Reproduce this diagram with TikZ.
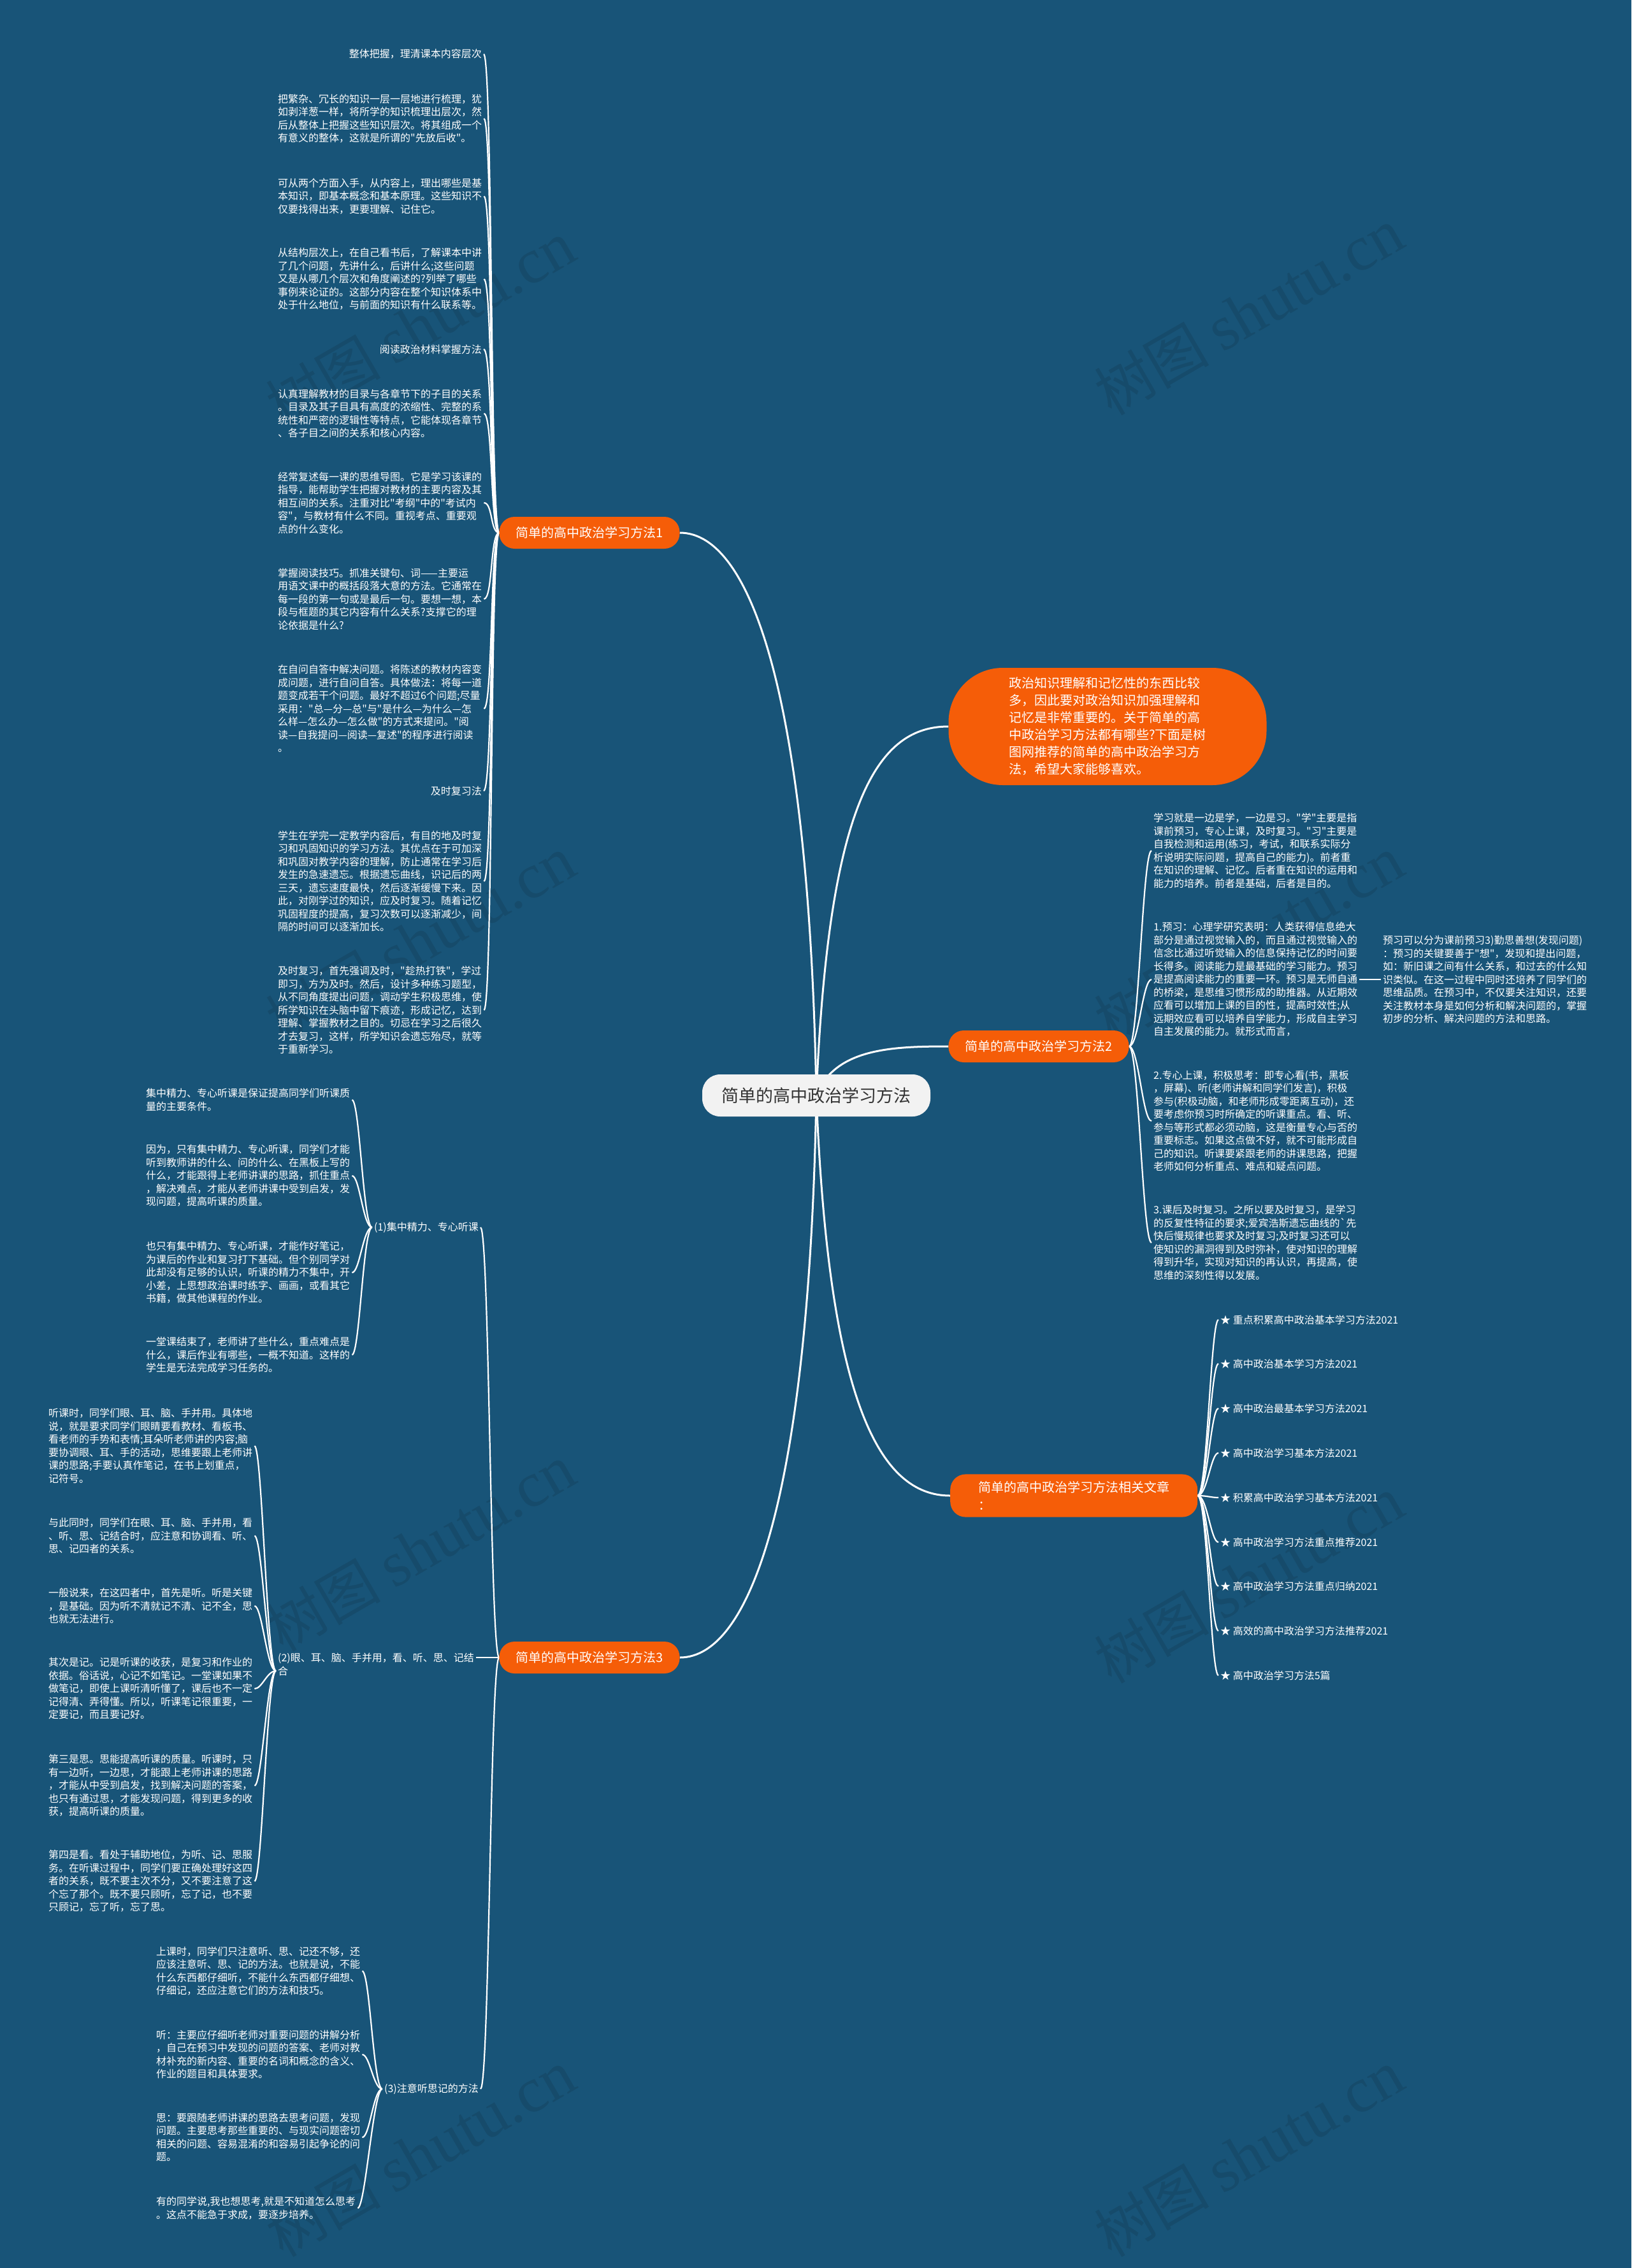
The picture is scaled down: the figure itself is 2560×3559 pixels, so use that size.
\documentclass[tikz,border=0pt]{standalone}
\usepackage{fontspec}
\setmainfont{Noto Sans CJK SC}
\newfontfamily\cjk{Noto Sans CJK SC}
\newfontfamily\wmserif{Liberation Serif}
\definecolor{bgC}{HTML}{185478}
\definecolor{orangeC}{HTML}{F55D08}
\definecolor{rootC}{HTML}{F2F2F2}
\definecolor{rootText}{HTML}{333333}
\definecolor{wmC}{HTML}{164B6B}
\pgfdeclarelayer{bglayer}
\pgfsetlayers{bglayer,main}
\begin{document}
\begin{tikzpicture}[x=1pt,y=-1pt,
  txtnode/.style={text=white,font=\cjk\fontsize{16}{20.5}\selectfont,align=left,inner sep=3pt},
  ltxt/.style={txtnode,anchor=west},
  rtxt/.style={txtnode,anchor=east},
  branchbox/.style={fill=orangeC,text=white,rounded corners=24pt,font=\cjk\fontsize{20}{28}\selectfont,minimum height=50pt,inner xsep=26pt},
  mainline/.style={draw=white,line width=3pt},
  subline/.style={draw=white,line width=2.2pt},
  wmark/.style={rotate=30,text=wmC,font=\cjk\fontsize{90}{90}\selectfont}]
\useasboundingbox (0,0) rectangle (2560,3559);

% ---------- root and first level ----------
\node[fill=rootC,text=rootText,rounded corners=28pt,font=\cjk\fontsize{27}{32}\selectfont,minimum width=358pt,minimum height=66pt] (root) at (1281,1719) {简单的高中政治学习方法};
\node[fill=orangeC,text=white,rounded corners=85pt,font=\cjk\fontsize{20}{27}\selectfont,align=left,minimum width=499pt,minimum height=184pt] (intro) at (1738,1140) {政治知识理解和记忆性的东西比较\\多，因此要对政治知识加强理解和\\记忆是非常重要的。关于简单的高\\中政治学习方法都有哪些?下面是树\\图网推荐的简单的高中政治学习方\\法，希望大家能够喜欢。};
\node[branchbox] (b1) at (925,836) {简单的高中政治学习方法1};
\node[branchbox] (b2) at (1630,1642) {简单的高中政治学习方法2};
\node[branchbox] (b3) at (925,2601) {简单的高中政治学习方法3};
\node[fill=orangeC,text=white,rounded corners=24pt,font=\cjk\fontsize{20}{28}\selectfont,align=left,anchor=west,inner xsep=34pt,inner ysep=11pt,minimum width=388pt] (rel) at (1491,2347) {简单的高中政治学习方法相关文章\\：};

% ---------- branch 1 ----------
\node[rtxt] (p1a) at (759,85) {整体把握，理清课本内容层次};
\node[ltxt] (p1b) at (433,186) {把繁杂、冗长的知识一层一层地进行梳理，犹\\如剥洋葱一样，将所学的知识梳理出层次，然\\后从整体上把握这些知识层次。将其组成一个\\有意义的整体，这就是所谓的"先放后收"。};
\node[ltxt] (p1c) at (433,308) {可从两个方面入手，从内容上，理出哪些是基\\本知识，即基本概念和基本原理。这些知识不\\仅要找得出来，更要理解、记住它。};
\node[ltxt] (p1d) at (433,438) {从结构层次上，在自己看书后，了解课本中讲\\了几个问题，先讲什么，后讲什么;这些问题\\又是从哪几个层次和角度阐述的?列举了哪些\\事例来论证的。这部分内容在整个知识体系中\\处于什么地位，与前面的知识有什么联系等。};
\node[rtxt] (p1e) at (759,548) {阅读政治材料掌握方法};
\node[ltxt] (p1f) at (433,649) {认真理解教材的目录与各章节下的子目的关系\\。目录及其子目具有高度的浓缩性、完整的系\\统性和严密的逻辑性等特点，它能体现各章节\\、各子目之间的关系和核心内容。};
\node[ltxt] (p1g) at (433,789) {经常复述每一课的思维导图。它是学习该课的\\指导，能帮助学生把握对教材的主要内容及其\\相互间的关系。注重对比"考纲"中的"考试内\\容"，与教材有什么不同。重视考点、重要观\\点的什么变化。};
\node[ltxt] (p1h) at (433,940) {掌握阅读技巧。抓准关键句、词——主要运\\用语文课中的概括段落大意的方法。它通常在\\每一段的第一句或是最后一句。要想一想，本\\段与框题的其它内容有什么关系?支撑它的理\\论依据是什么?};
\node[ltxt] (p1i) at (433,1112) {在自问自答中解决问题。将陈述的教材内容变\\成问题，进行自问自答。具体做法：将每一道\\题变成若干个问题。最好不超过6个问题;尽量\\采用："总—分—总"与"是什么—为什么—怎\\么样—怎么办—怎么做"的方式来提问。"阅\\读—自我提问—阅读—复述"的程序进行阅读\\。};
\node[rtxt] (p1j) at (759,1241) {及时复习法};
\node[ltxt] (p1k) at (433,1383) {学生在学完一定教学内容后，有目的地及时复\\习和巩固知识的学习方法。其优点在于可加深\\和巩固对教学内容的理解，防止通常在学习后\\发生的急速遗忘。根据遗忘曲线，识记后的两\\三天，遗忘速度最快，然后逐渐缓慢下来。因\\此，对刚学过的知识，应及时复习。随着记忆\\巩固程度的提高，复习次数可以逐渐减少，间\\隔的时间可以逐渐加长。};
\node[ltxt] (p1l) at (433,1585) {及时复习，首先强调及时，"趁热打铁"，学过\\即习，方为及时。然后，设计多种练习题型，\\从不同角度提出问题，调动学生积极思维，使\\所学知识在头脑中留下痕迹，形成记忆，达到\\理解、掌握教材之目的。切忌在学习之后很久\\才去复习，这样，所学知识会遗忘殆尽，就等\\于重新学习。};

% ---------- branch 2 ----------
\node[ltxt] (p2a) at (1807,1335) {学习就是一边是学，一边是习。"学"主要是指\\课前预习，专心上课，及时复习。"习"主要是\\自我检测和运用(练习，考试，和联系实际分\\析说明实际问题，提高自己的能力)。前者重\\在知识的理解、记忆。后者重在知识的运用和\\能力的培养。前者是基础，后者是目的。};
\node[ltxt] (p2b) at (1807,1537) {1.预习：心理学研究表明：人类获得信息绝大\\部分是通过视觉输入的，而且通过视觉输入的\\信念比通过听觉输入的信息保持记忆的时间要\\长得多。阅读能力是最基础的学习能力。预习\\是提高阅读能力的重要一环。预习是无师自通\\的桥梁，是思维习惯形成的助推器。从近期效\\应看可以增加上课的目的性，提高时效性;从\\远期效应看可以培养自学能力，形成自主学习\\自主发展的能力。就形式而言，};
\node[ltxt] (p2bc) at (2167,1537) {预习可以分为课前预习3)勤思善想(发现问题)\\：预习的关键要善于"想"，发现和提出问题，\\如：新旧课之间有什么关系，和过去的什么知\\识类似。在这一过程中同时还培养了同学们的\\思维品质。在预习中，不仅要关注知识，还要\\关注教材本身是如何分析和解决问题的，掌握\\初步的分析、解决问题的方法和思路。};
\node[ltxt] (p2c) at (1807,1759) {2.专心上课，积极思考：即专心看(书，黑板\\，屏幕)、听(老师讲解和同学们发言)，积极\\参与(积极动脑，和老师形成零距离互动)，还\\要考虑你预习时所确定的听课重点。看、听、\\参与等形式都必须动脑，这是衡量专心与否的\\重要标志。如果这点做不好，就不可能形成自\\己的知识。听课要紧跟老师的讲课思路，把握\\老师如何分析重点、难点和疑点问题。};
\node[ltxt] (p2d) at (1807,1950) {3.课后及时复习。之所以要及时复习，是学习\\的反复性特征的要求;爱宾浩斯遗忘曲线的`先\\快后慢规律也要求及时复习;及时复习还可以\\使知识的漏洞得到及时弥补，使对知识的理解\\得到升华，实现对知识的再认识，再提高，使\\思维的深刻性得以发展。};

% ---------- branch 3 ----------
\node[rtxt] (l1) at (754,1926) {(1)集中精力、专心听课};
\node[ltxt] (l2) at (433,2612) {(2)眼、耳、脑、手并用，看、听、思、记结\\合};
\node[rtxt] (l3) at (754,3278) {(3)注意听思记的方法};

\node[ltxt] (q1a) at (226,1726) {集中精力、专心听课是保证提高同学们听课质\\量的主要条件。};
\node[ltxt] (q1b) at (226,1845) {因为，只有集中精力、专心听课，同学们才能\\听到教师讲的什么、问的什么、在黑板上写的\\什么，才能跟得上老师讲课的思路，抓住重点\\，解决难点，才能从老师讲课中受到启发，发\\现问题，提高听课的质量。};
\node[ltxt] (q1c) at (226,1997) {也只有集中精力、专心听课，才能作好笔记，\\为课后的作业和复习打下基础。但个别同学对\\此却没有足够的认识，听课的精力不集中，开\\小差，上思想政治课时练字、画画，或看其它\\书籍，做其他课程的作业。};
\node[ltxt] (q1d) at (226,2126) {一堂课结束了，老师讲了些什么，重点难点是\\什么，课后作业有哪些，一概不知道。这样的\\学生是无法完成学习任务的。};

\node[ltxt] (q2a) at (73,2269) {听课时，同学们眼、耳、脑、手并用。具体地\\说，就是要求同学们眼睛要看教材、看板书、\\看老师的手势和表情;耳朵听老师讲的内容;脑\\要协调眼、耳、手的活动，思维要跟上老师讲\\课的思路;手要认真作笔记，在书上划重点，\\记符号。};
\node[ltxt] (q2b) at (73,2410) {与此同时，同学们在眼、耳、脑、手并用，看\\、听、思、记结合时，应注意和协调看、听、\\思、记四者的关系。};
\node[ltxt] (q2c) at (73,2520) {一般说来，在这四者中，首先是听。听是关键\\，是基础。因为听不清就记不清、记不全，思\\也就无法进行。};
\node[ltxt] (q2d) at (73,2650) {其次是记。记是听课的收获，是复习和作业的\\依据。俗话说，心记不如笔记。一堂课如果不\\做笔记，即使上课听清听懂了，课后也不一定\\记得清、弄得懂。所以，听课笔记很重要，一\\定要记，而且要记好。};
\node[ltxt] (q2e) at (73,2802) {第三是思。思能提高听课的质量。听课时，只\\有一边听，一边思，才能跟上老师讲课的思路\\，才能从中受到启发，找到解决问题的答案，\\也只有通过思，才能发现问题，得到更多的收\\获，提高听课的质量。};
\node[ltxt] (q2f) at (73,2952) {第四是看。看处于辅助地位，为听、记、思服\\务。在听课过程中，同学们要正确处理好这四\\者的关系，既不要主次不分，又不要注意了这\\个忘了那个。既不要只顾听，忘了记，也不要\\只顾记，忘了听，忘了思。};

\node[ltxt] (q3a) at (242,3093) {上课时，同学们只注意听、思、记还不够，还\\应该注意听、思、记的方法。也就是说，不能\\什么东西都仔细听，不能什么东西都仔细想、\\仔细记，还应注意它们的方法和技巧。};
\node[ltxt] (q3b) at (242,3224) {听：主要应仔细听老师对重要问题的讲解分析\\，自己在预习中发现的问题的答案、老师对教\\材补充的新内容、重要的名词和概念的含义、\\作业的题目和具体要求。};
\node[ltxt] (q3c) at (242,3354) {思：要跟随老师讲课的思路去思考问题，发现\\问题。主要思考那些重要的、与现实问题密切\\相关的问题、容易混淆的和容易引起争论的问\\题。};
\node[ltxt] (q3d) at (242,3465) {有的同学说,我也想思考,就是不知道怎么思考\\。这点不能急于求成，要逐步培养。};

% ---------- related articles ----------
\foreach \i/\yy/\t in {1/2071/重点积累高中政治基本学习方法2021,2/2140/高中政治基本学习方法2021,3/2210/高中政治最基本学习方法2021,4/2280/高中政治学习基本方法2021,5/2350/积累高中政治学习基本方法2021,6/2420/高中政治学习方法重点推荐2021,7/2489/高中政治学习方法重点归纳2021,8/2559/高效的高中政治学习方法推荐2021,9/2629/高中政治学习方法5篇}
  \node[ltxt] (r\i) at (1912,\yy) {★ \t};

% ---------- background, watermarks, connectors ----------
\begin{pgfonlayer}{bglayer}
\fill[bgC] (0,0) rectangle (2560,3559);
\foreach \xx/\yy in {660/510,1960/490,660/1475,1960/1475,660/2430,1960/2480,660/3380,1960/3380}
  \node[wmark] (wm-\xx-\yy) at (\xx,\yy) {树图 {\wmserif\fontsize{100}{100}\selectfont shutu.cn}};

\draw[mainline] (root.center) .. controls (1270,1100) and (1180,836) .. (b1.east);
\draw[mainline] (root.center) .. controls (1300,1250) and (1380,1140) .. (intro.west);
\draw[mainline] (root.center) .. controls (1310,1645) and (1400,1642) .. (b2.west);
\draw[mainline] (root.center) .. controls (1270,2338) and (1180,2601) .. (b3.east);
\draw[mainline] (root.center) .. controls (1300,2200) and (1380,2347) .. (rel.west);

\foreach \c in {p1a,p1b,p1c,p1d,p1e,p1f,p1g,p1h,p1i,p1j,p1k,p1l}
  \draw[subline] (b1.west) .. controls +(-14,0) and +(14,0) .. (\c.east);
\foreach \c in {p2a,p2b,p2c,p2d}
  \draw[subline] (b2.east) .. controls +(15,0) and +(-14,0) .. (\c.west);
\draw[subline] (p2b.east) -- (p2bc.west);

\draw[subline] (b3.west) .. controls +(-14,0) and +(14,0) .. (l1.east);
\draw[subline] (b3.west) -- (b3.west -| l2.east);
\draw[subline] (b3.west) .. controls +(-14,0) and +(14,0) .. (l3.east);

\foreach \c in {q1a,q1b,q1c,q1d}
  \draw[subline] (l1.west) .. controls +(-14,0) and +(12,0) .. (\c.east);
\foreach \c in {q2a,q2b,q2c,q2d,q2e,q2f}
  \draw[subline] ([yshift=-10pt]l2.west) .. controls +(-14,0) and +(12,0) .. (\c.east);
\foreach \c in {q3a,q3b,q3c,q3d}
  \draw[subline] (l3.west) .. controls +(-14,0) and +(12,0) .. (\c.east);

\foreach \i in {1,...,9}
  \draw[subline] (rel.east) .. controls +(15,0) and +(-12,0) .. (r\i.west);
\end{pgfonlayer}
\end{tikzpicture}
\end{document}
